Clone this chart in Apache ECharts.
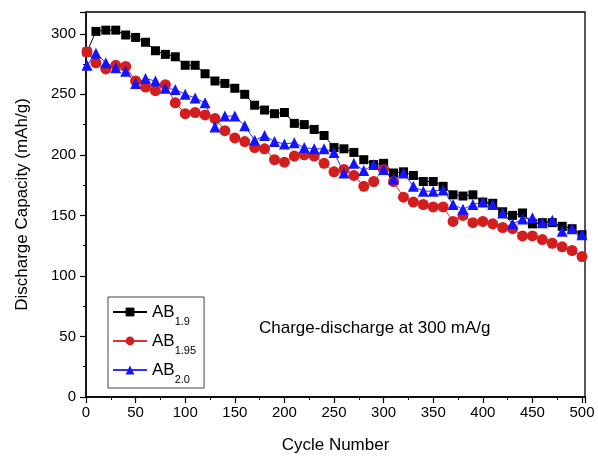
<!DOCTYPE html>
<html><head><meta charset="utf-8">
<script src="https://cdn.jsdelivr.net/npm/echarts@6/dist/echarts.min.js"></script>
<style>html,body{margin:0;padding:0;background:#fff}#c{width:598px;height:463px}</style>
</head><body><div id="c"></div>
<script>
const cycles = [1,10,20,30,40,50,60,70,80,90,100,110,120,130,140,150,160,170,180,190,200,210,220,230,240,250,260,270,280,290,300,310,320,330,340,350,360,370,380,390,400,410,420,430,440,450,460,470,480,490,500];
const ab19 = [285,302,303,303,299,297,293,286,283,281,274,274,267,261,259,255,250,241,237,234,235,226,225,221,216,206,205,202,196,192,193,185,186,183,178,178,174,167,166,167,161,160,153,150,152,143,144,144,141,139,134];
const ab195 = [285,276,271,274,273,261,256,253,258,243,234,235,233,230,220,214,211,206,205,196,194,199,200,199,193,186,188,183,174,178,188,178,165,161,159,157,157,145,150,144,145,143,140,139,133,133,130,127,124,121,116];
const ab20 = [274,284,276,272,269,259,263,261,255,254,250,247,243,223,232,232,224,212,216,211,209,210,206,205,205,202,185,193,187,192,188,180,185,174,170,170,171,159,155,159,161,159,152,143,147,148,144,146,137,139,134];
const seriesNames = ['AB1.9','AB1.95','AB2.0'];
const xTicks = [0,50,100,150,200,250,300,350,400,450,500];
const yTicks = [0,50,100,150,200,250,300];

const pair = arr => cycles.map((c,i)=>[c,arr[i]]);
const FONT = 'Liberation Sans';
const chart = echarts.init(document.getElementById('c'));
const subs = {'AB1.9':'1.9','AB1.95':'1.95','AB2.0':'2.0'};
chart.setOption({
  animation:false,
  backgroundColor:'#fff',
  grid:{left:86,right:13,top:12,bottom:66,show:true,borderColor:'#000',borderWidth:1.3},
  xAxis:{type:'value',min:0,max:503,interval:50,
    name:'Cycle Number',nameLocation:'middle',nameGap:40,
    nameTextStyle:{fontFamily:FONT,fontSize:17,color:'#000'},
    axisLine:{show:true,onZero:false,lineStyle:{color:'#000',width:1.5}},
    axisTick:{show:true,inside:false,length:6,lineStyle:{color:'#000',width:1.2}},
    minorTick:{show:true,splitNumber:2,length:3,lineStyle:{color:'#000',width:1}},
    axisLabel:{fontFamily:FONT,fontSize:15,color:'#000',margin:8,showMaxLabel:false,
      formatter:v=>xTicks.includes(v)?String(v):''},
    splitLine:{show:false}},
  yAxis:{type:'value',min:0,max:318,interval:50,
    name:'Discharge Capacity (mAh/g)',nameLocation:'middle',nameGap:55,
    nameTextStyle:{fontFamily:FONT,fontSize:17,color:'#000'},
    axisLine:{show:true,onZero:false,lineStyle:{color:'#000',width:1.5}},
    axisTick:{show:true,inside:false,length:6,lineStyle:{color:'#000',width:1.2}},
    minorTick:{show:true,splitNumber:2,length:3,lineStyle:{color:'#000',width:1}},
    axisLabel:{fontFamily:FONT,fontSize:15,color:'#000',margin:10,showMaxLabel:false,
      formatter:v=>yTicks.includes(v)?String(v):''},
    splitLine:{show:false}},
  legend:{orient:'vertical',left:108,top:297,itemWidth:34,itemHeight:11,itemGap:6,
    padding:[7,8,3,4],borderColor:'#444',borderWidth:1,
    data:seriesNames,
    formatter:n=>'{a|AB}{s|'+subs[n]+'}',
    textStyle:{rich:{
      a:{fontFamily:FONT,fontSize:17,color:'#000',verticalAlign:'bottom',lineHeight:18},
      s:{fontFamily:FONT,fontSize:11,color:'#000',verticalAlign:'bottom',lineHeight:18,padding:[0,0,-6,0]}}}},
  graphic:[{type:'text',left:259,top:320,style:{text:'Charge-discharge at 300 mA/g',font:'17px "Liberation Sans"',fill:'#000'}}],
  series:[
    {name:'AB1.9',type:'line',data:pair(ab19),symbol:'rect',symbolSize:9,
      itemStyle:{color:'#000'},lineStyle:{color:'#000',width:1}},
    {name:'AB1.95',type:'line',data:pair(ab195),symbol:'circle',symbolSize:11,
      itemStyle:{color:'#d21e1e'},lineStyle:{color:'#e03030',width:1}},
    {name:'AB2.0',type:'line',data:pair(ab20),symbol:'triangle',symbolSize:11,
      itemStyle:{color:'#1414ff'},lineStyle:{color:'#3030ff',width:1}}
  ]
});
</script></body></html>
